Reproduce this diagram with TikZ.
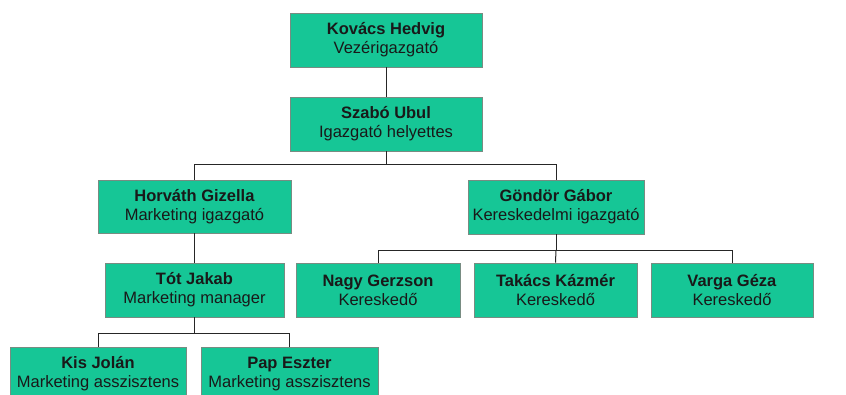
\documentclass[tikz,border=0pt]{standalone}
\usepackage{fontspec}
\setmainfont{Liberation Sans}
\definecolor{boxfill}{RGB}{22,198,150}
\definecolor{boxline}{RGB}{120,140,130}
\begin{document}
\begin{tikzpicture}[x=1pt,y=1pt,
  person/.style={draw=boxline, line width=0.8pt, fill=boxfill, minimum height=54pt, inner sep=0pt,
    align=center, font=\fontsize{16.5}{19}\selectfont, text=black!90},
  link/.style={draw=black!85, line width=1pt}]
\clip (0,0) rectangle (846,-394);
\useasboundingbox (0,0) rectangle (846,-394);
\node[person, minimum width=192pt] (kh) at (386,-40) {\textbf{Kovács Hedvig}\\Vezérigazgató};
\node[person, minimum width=192pt] (su) at (386,-124) {\textbf{Szabó Ubul}\\Igazgató helyettes};
\node[person, minimum width=193pt, minimum height=53pt] (hg) at (194.5,-206.5) {\textbf{Horváth Gizella}\\Marketing igazgató};
\node[person, minimum width=176pt] (gg) at (556,-207) {\textbf{Göndör Gábor}\\Kereskedelmi igazgató};
\node[person, minimum width=179pt] (tj) at (194.5,-290) {\textbf{Tót Jakab}\\Marketing manager};
\node[person, minimum width=164pt] (ng) at (378,-290) {\textbf{Nagy Gerzson}\\Kereskedő};
\node[person, minimum width=163pt] (tk) at (555.5,-290) {\textbf{Takács Kázmér}\\Kereskedő};
\node[person, minimum width=162pt] (vg) at (732,-290) {\textbf{Varga Géza}\\Kereskedő};
\node[person, minimum width=176pt] (kj) at (98,-374) {\textbf{Kis Jolán}\\Marketing asszisztens};
\node[person, minimum width=177pt] (pe) at (289.5,-374) {\textbf{Pap Eszter}\\Marketing asszisztens};
\coordinate (j1) at (386,-164);
\coordinate (j2) at (556,-250);
\coordinate (j3) at (194.5,-333);
\draw[link] (kh.south) -- (su.north);
\draw[link] (su.south) -- (j1);
\draw[link] (j1) -| (hg.north);
\draw[link] (j1) -| (gg.north);
\draw[link] (hg.south) -- (tj.north);
\draw[link] (gg.south) -- (j2);
\draw[link] (j2) -| (ng.north);
\draw[link] (j2) -- (tk.north);
\draw[link] (j2) -| (vg.north);
\draw[link] (tj.south) -- (j3);
\draw[link] (j3) -| (kj.north);
\draw[link] (j3) -| (pe.north);
\end{tikzpicture}
\end{document}
